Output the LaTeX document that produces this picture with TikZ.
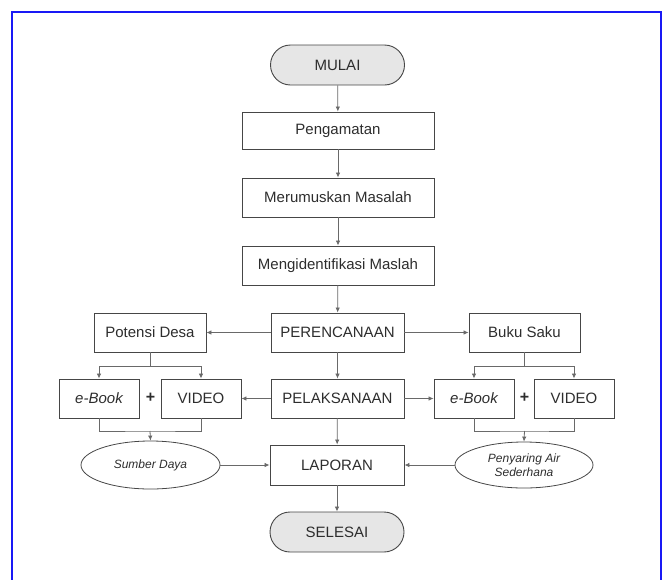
\documentclass[tikz,border=0pt]{standalone}
\usepackage{fontspec}
\setmainfont{Liberation Sans}
\usetikzlibrary{shapes.geometric,shapes.misc,arrows.meta}
\definecolor{framec}{RGB}{25,25,245}
\definecolor{boxc}{RGB}{70,70,70}
\definecolor{linec}{RGB}{105,105,105}
\definecolor{txtc}{RGB}{45,45,45}
\definecolor{termfill}{RGB}{230,230,230}
\tikzset{
  box/.style={draw=boxc, line width=0.9pt, minimum height=39pt, inner sep=0pt, text=txtc, font=\fontsize{15}{18}\selectfont},
  term/.style={box, rounded rectangle, fill=termfill, minimum height=40pt, minimum width=134pt},
  oval/.style={draw=boxc, line width=0.8pt, ellipse, inner sep=0pt, text=txtc, align=center, font=\fontsize{12}{13.5}\selectfont\itshape},
  arr/.style={draw=linec, line width=0.8pt, -{Latex[length=5pt,width=4.5pt]}},
  ln/.style={draw=linec, line width=0.8pt},
  plus/.style={text=txtc, font=\fontsize{16}{18}\selectfont\bfseries, inner sep=0pt}
}
\begin{document}
\begin{tikzpicture}[x=1pt,y=-1pt]
\useasboundingbox (0,0) rectangle (664,579);
\draw[framec, line width=2pt] (12,585) -- (12,12) -- (661,12) -- (661,585);

\node[term] (mulai) at (337.5,65) {MULAI};
\node[box, minimum width=192pt, minimum height=37pt] (peng) at (338,130.5) {Pengamatan};
\node[box, minimum width=192pt] (rum) at (338,197.5) {Merumuskan Masalah};
\node[box, minimum width=192pt] (iden) at (338,265.5) {Mengidentifikasi Maslah};
\node[box, minimum width=133pt] (renc) at (337.5,332.5) {PERENCANAAN};
\node[box, minimum width=133pt] (pel) at (337.5,398.5) {PELAKSANAAN};
\node[box, minimum width=134pt, minimum height=40pt] (lap) at (337,465) {LAPORAN};
\node[term] (sel) at (337,532) {SELESAI};

\node[box, minimum width=112pt] (pot) at (150,332.5) {Potensi Desa};
\node[box, minimum width=80pt] (ebl) at (99,398.5) {\itshape e-Book};
\node[box, minimum width=80pt] (vil) at (201,398.5) {VIDEO};
\node[plus] (plusl) at (150.5,398) {+};
\node[oval, minimum width=139pt, minimum height=48pt] (sd) at (150.5,465) {Sumber Daya};

\node[box, minimum width=111pt] (buku) at (524.5,332.5) {Buku Saku};
\node[box, minimum width=80pt] (ebr) at (474,398.5) {\itshape e-Book};
\node[box, minimum width=80pt] (vir) at (574,398.5) {VIDEO};
\node[plus] (plusr) at (524.5,398) {+};
\node[oval, minimum width=138pt, minimum height=46pt] (pa) at (524,465) {Penyaring Air\\Sederhana};

\coordinate (bl) at (150,366);
\coordinate (ml) at (150,431);
\coordinate (br) at (524.5,366);
\coordinate (mr) at (524.5,431);

\draw[arr] (mulai) -- (peng);
\draw[arr] (peng) -- (rum);
\draw[arr] (rum) -- (iden);
\draw[arr] (iden) -- (renc);
\draw[arr] (renc) -- (pel);
\draw[arr] (pel) -- (lap);
\draw[arr] (lap) -- (sel);

\draw[arr] (renc.west) -- (pot.east);
\draw[arr] (renc.east) -- (buku.west);
\draw[arr] (pel.west) -- (vil.east);
\draw[arr] (pel.east) -- (ebr.west);
\draw[arr] (sd.east) -- (lap.west);
\draw[arr] (pa.west) -- (lap.east);

\draw[ln] (pot.south) -- (bl);
\draw[arr] (bl) -| (ebl.north);
\draw[arr] (bl) -| (vil.north);
\draw[ln] (ebl.south) |- (ml) -| (vil.south);
\draw[arr] (ml) -- (sd.north);

\draw[ln] (buku.south) -- (br);
\draw[arr] (br) -| (ebr.north);
\draw[arr] (br) -| (vir.north);
\draw[ln] (ebr.south) |- (mr) -| (vir.south);
\draw[arr] (mr) -- (pa.north);
\end{tikzpicture}
\end{document}
